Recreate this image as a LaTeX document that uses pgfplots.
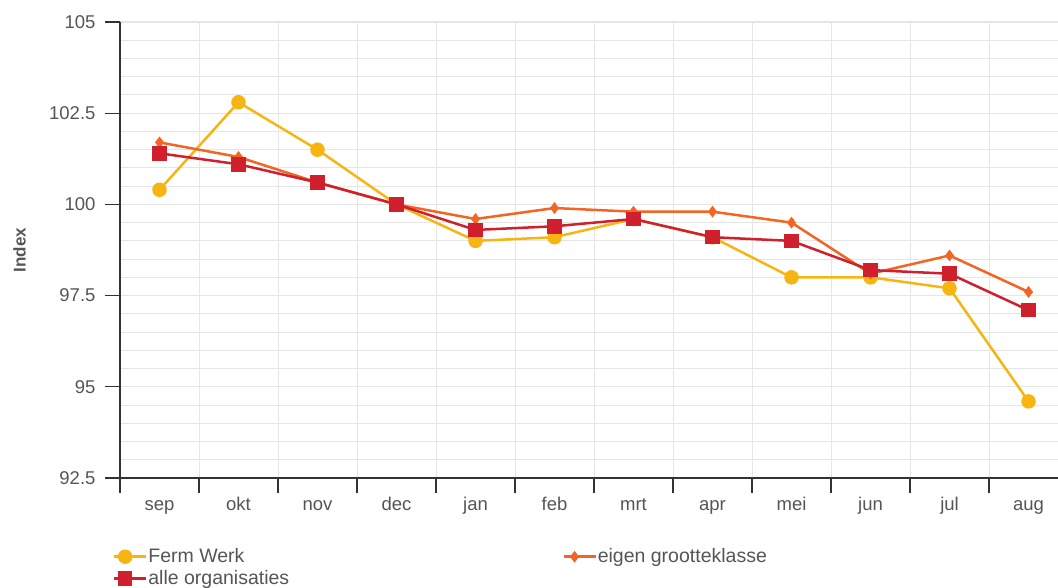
\documentclass[border=0pt]{standalone}
\usepackage{pgfplots}
\pgfplotsset{compat=1.18}
\usepackage{fontspec}
\setmainfont{Liberation Sans}
\definecolor{cYel}{HTML}{F7B514}
\definecolor{cOra}{HTML}{F26522}
\definecolor{cRed}{HTML}{D0202E}
\definecolor{cGrid}{HTML}{E6E6E6}
\definecolor{cTxt}{HTML}{555555}
\begin{document}
\begin{tikzpicture}
\begin{axis}[
  name=ax, at={(0pt,0pt)}, anchor=south west,
  scale only axis, width=938pt, height=456pt,
  xmin=-0.5, xmax=11.373, ymin=92.5, ymax=105,
  axis lines*=left, axis line style={-, draw=black!80, line width=1.2pt},
  tick align=outside, major tick length=15pt, minor tick length=15pt,
  xtick={0,...,11},
  xticklabels={sep,okt,nov,dec,jan,feb,mrt,apr,mei,jun,jul,aug},
  major x tick style={draw=none},
  minor xtick={-0.5,0.5,1.5,2.5,3.5,4.5,5.5,6.5,7.5,8.5,9.5,10.5},
  minor x tick style={draw=black!80, line width=1.2pt},
  xminorgrids=true,
  ytick={92.5,95,97.5,100,102.5,105},
  yticklabels={92.5,95,97.5,100,102.5,105},
  major y tick style={draw=black!80, line width=1.2pt},
  minor y tick num=4, minor y tick style={draw=none},
  ymajorgrids=true, yminorgrids=true,
  major grid style={cGrid, line width=1.2pt},
  minor grid style={cGrid, line width=1pt},
  tick label style={font=\fontsize{18.5}{21}\selectfont, text=cTxt},
  yticklabel style={xshift=-6pt},
  xticklabel style={text height=13pt, text depth=4pt, yshift=-1pt},
  ylabel={Index},
  ylabel style={at={(axis description cs:-0.107,0.5)}, anchor=center, rotate=0,
    font=\bfseries\fontsize{17}{20}\selectfont, text=cTxt},
  legend columns=2,
  legend style={at={(rel axis cs:-0.011,-0.147)}, anchor=north west, draw=none, fill=none,
    font=\fontsize{19.5}{21}\selectfont, text=cTxt,
    /tikz/column 2/.style={column sep=272pt},
    nodes={inner sep=1pt, text depth=3pt, text height=14pt}, row sep=3pt},
  legend cell align=left,
  legend image code/.code={\draw[mark repeat=2,mark phase=2,#1] plot coordinates {(0pt,0pt) (11pt,0pt) (22pt,0pt)};
    \path (22pt,0pt) -- (32pt,0pt);},
  clip=false,
]
\addplot[cYel, line width=2.5pt, mark=*, mark size=6pt, mark options={fill=cYel, draw=cYel}] coordinates {
(0,100.4) (1,102.8) (2,101.5) (3,100.0) (4,99.0) (5,99.1) (6,99.6) (7,99.1) (8,98.0) (9,98.0) (10,97.7) (11,94.6)};
\addlegendentry{Ferm Werk}
\addplot[cOra, line width=2.5pt, mark=diamond*, mark size=5.5pt, mark options={fill=cOra, draw=cOra, line width=0.5pt}] coordinates {
(0,101.7) (1,101.3) (2,100.6) (3,100.0) (4,99.6) (5,99.9) (6,99.8) (7,99.8) (8,99.5) (9,98.1) (10,98.6) (11,97.6)};
\addlegendentry{eigen grootteklasse}
\addplot[cRed, line width=2.5pt, mark=square*, mark size=6pt, mark options={fill=cRed, draw=cRed}] coordinates {
(0,101.4) (1,101.1) (2,100.6) (3,100.0) (4,99.3) (5,99.4) (6,99.6) (7,99.1) (8,99.0) (9,98.2) (10,98.1) (11,97.1)};
\addlegendentry{alle organisaties}
\end{axis}
\pgfresetboundingbox
\useasboundingbox (-120pt,-109pt) rectangle (938pt,478pt);
\end{tikzpicture}
\end{document}
